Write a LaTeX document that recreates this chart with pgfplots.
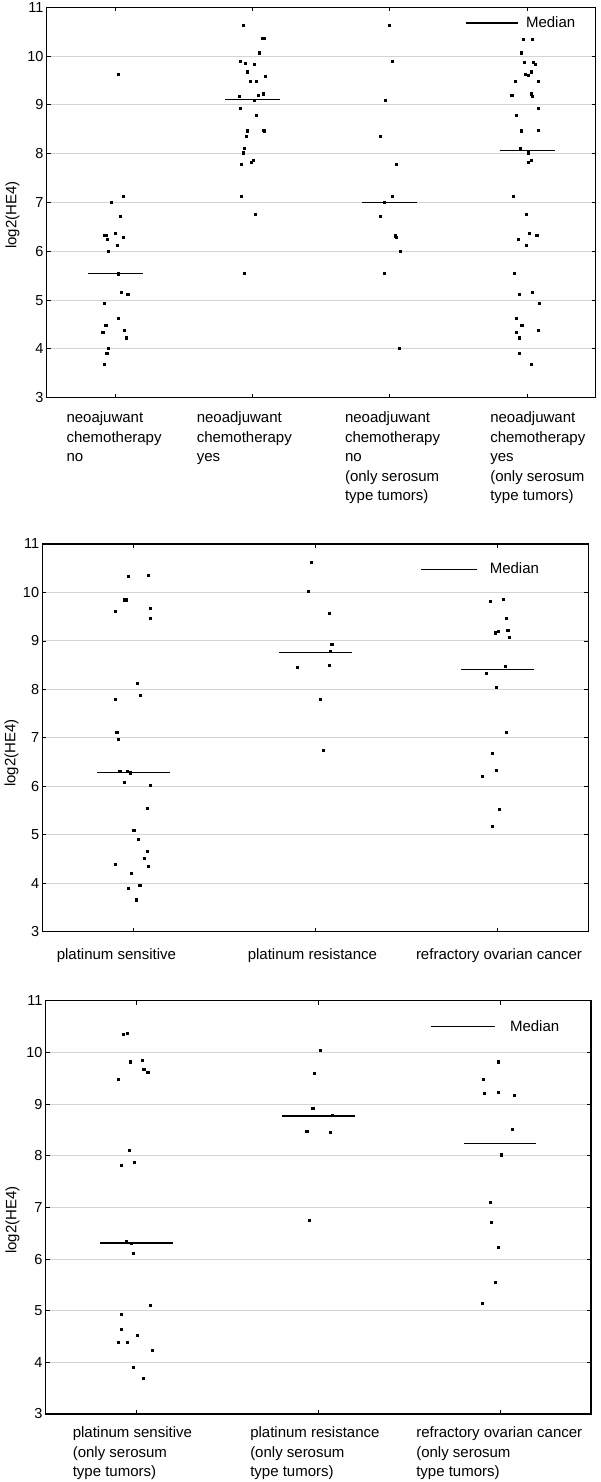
\documentclass[border=0pt]{standalone}
\usepackage{pgfplots}
\pgfplotsset{compat=1.18}
\usepackage{fontspec}
\setmainfont{Liberation Sans}
\newcommand\lab[2]{\hspace*{#1}\begin{tabular}{@{}l@{}}#2\end{tabular}}
\pgfplotsset{
  panel/.style={
    scale only axis,
    ymin=3, ymax=11, ytick={3,4,...,11},
    xmin=0.5,
    ymajorgrids,
    grid style={draw=black!17, line width=1pt},
    axis line style={line width=1.3pt},
    tick style={black, line width=0.8pt},
    major tick length=4pt,
    tick align=inside,
    /pgf/number format/assume math mode=true,
    yticklabel style={font=\fontsize{14.5}{14.5}\selectfont, inner sep=0pt, xshift=-3pt},
    xticklabel style={font=\fontsize{15}{19.5}\selectfont, anchor=north west, inner sep=0pt},
    ylabel={log2(HE4)},
    ylabel style={font=\fontsize{15}{15}\selectfont, anchor=center},
    legend style={draw=none, fill=none, font=\fontsize{15}{15}\selectfont, inner sep=0pt, anchor=west},
    legend cell align=left,
  },
  pts/.style={only marks, mark=square*, mark size=1.05pt, black, forget plot},
  med/.style={black, line width=1.3pt, no marks, forget plot},
}
\begin{document}
\begin{tikzpicture}
\useasboundingbox (0,0) rectangle (600pt,1482pt);

% ---------------- Panel 1 ----------------
\begin{axis}[panel,
  at={(46.7pt,1084.3pt)}, anchor=south west,
  width=549pt, height=390.4pt,
  xmax=4.5, xtick={1,2,3,4},
  xticklabel style={yshift=-11pt},
  xticklabels={
    {\lab{-49pt}{neoajuwant\\chemotherapy\\no}},
    {\lab{-56pt}{neoadjuwant\\chemotherapy\\yes}},
    {\lab{-45pt}{neoadjuwant\\chemotherapy\\no\\(only serosum\\type tumors)}},
    {\lab{-37pt}{neoadjuwant\\chemotherapy\\yes\\(only serosum\\type tumors)}}},
  ylabel style={at={(axis description cs:-0.0623,0.468)}},
  legend style={at={(axis cs:3.547,10.68)}},
  legend image code/.code={\draw[#1] (0pt,0pt) -- (52.6pt,0pt);},
]
\addplot[pts] coordinates {
(1.024,9.62) (1.058,7.13) (0.973,7.00) (1.036,6.72) (1.002,6.37) (0.922,6.33)
(0.932,6.33) (0.942,6.25) (1.056,6.29) (1.015,6.12) (0.947,6.01) (1.022,5.54)
(1.046,5.16) (1.090,5.12) (0.922,4.93) (1.024,4.63) (0.930,4.49) (0.908,4.35)
(1.066,4.39) (1.078,4.23) (0.947,4.01) (0.937,3.92) (0.922,3.69)};
\addplot[pts] coordinates {
(1.932,10.63) (2.073,10.36) (2.085,10.36) (2.046,10.07) (1.908,9.89) (1.944,9.86)
(2.015,9.83) (1.964,9.68) (2.090,9.59) (1.985,9.48) (2.027,9.48) (1.900,9.18)
(2.039,9.20) (2.080,9.23) (2.015,9.09) (1.910,8.94) (2.024,8.79) (1.961,8.47)
(1.951,8.35) (2.085,8.47) (2.080,8.49) (1.942,8.11) (1.934,8.02) (2.005,7.87)
(1.993,7.82) (1.920,7.79) (1.920,7.13) (2.020,6.76) (1.939,5.55)};
\addplot[pts] coordinates {
(2.995,10.63) (3.017,9.89) (2.964,9.09) (2.932,8.35) (3.046,7.79) (3.017,7.13)
(2.960,7.00) (2.932,6.72) (3.039,6.32) (3.044,6.29) (3.078,6.01) (2.961,5.55)
(3.068,4.01)};
\addplot[pts] coordinates {
(3.971,10.35) (4.039,10.35) (3.954,10.07) (3.976,9.87) (4.046,9.87) (4.056,9.84)
(3.985,9.63) (4.005,9.60) (4.027,9.68) (3.913,9.48) (4.080,9.48) (3.888,9.20)
(4.027,9.23) (4.039,9.18) (4.080,8.94) (3.922,8.79) (3.954,8.47) (4.080,8.49)
(3.951,8.11) (4.005,8.02) (4.027,7.87) (4.007,7.82) (3.900,7.13) (3.993,6.76)
(4.017,6.37) (4.070,6.33) (3.934,6.25) (3.995,6.12) (3.908,5.55) (4.036,5.16)
(3.944,5.12) (4.090,4.93) (3.922,4.63) (3.961,4.49) (3.922,4.35) (4.078,4.39)
(3.942,4.23) (3.942,3.92) (4.027,3.69)};
\addplot[med] coordinates {(0.8,5.55) (1.2,5.55)};
\addplot[med] coordinates {(1.8,9.11) (2.2,9.11)};
\addplot[med] coordinates {(2.8,7.00) (3.2,7.00)};
\addplot[med] coordinates {(3.8,8.06) (4.2,8.06)};
\addlegendimage{black, line width=1.3pt}
\addlegendentry{\hspace*{5pt}Median}
\end{axis}

% ---------------- Panel 2 ----------------
\begin{axis}[panel,
  at={(42.3pt,550.3pt)}, anchor=south west,
  width=546pt, height=387.7pt,
  xmax=3.5, xtick={1,2,3},
  xticklabel style={yshift=-14pt},
  xticklabels={
    {\lab{-76.7pt}{platinum sensitive}},
    {\lab{-67.7pt}{platinum resistance}},
    {\lab{-81.5pt}{refractory ovarian cancer}}},
  ylabel style={at={(axis description cs:-0.0564,0.461)}},
  legend style={at={(axis cs:2.577,10.48)}},
  legend image code/.code={\draw[#1] (0pt,0pt) -- (56pt,0pt);},
]
\addplot[pts] coordinates {
(0.973,10.33) (1.084,10.36) (0.949,9.85) (0.958,9.85) (0.901,9.62) (1.091,9.67)
(1.091,9.46) (1.020,8.13) (1.037,7.88) (0.900,7.79) (0.909,7.11) (0.916,6.98)
(0.925,6.32) (0.965,6.32) (0.982,6.28) (0.949,6.09) (1.091,6.03) (1.075,5.54)
(1.002,5.09) (1.026,4.91) (1.075,4.66) (1.059,4.51) (0.901,4.39) (1.084,4.36)
(0.987,4.20) (1.035,3.96) (0.973,3.89) (1.018,3.66)};
\addplot[pts] coordinates {
(1.976,10.63) (1.960,10.03) (2.075,9.58) (2.090,8.93) (2.082,8.79) (2.075,8.49)
(1.900,8.46) (2.027,7.79) (2.042,6.75)};
\addplot[pts] coordinates {
(2.962,9.82) (3.033,9.86) (3.049,9.47) (2.987,9.17) (3.007,9.20) (3.057,9.23)
(3.066,9.08) (3.044,8.48) (2.940,8.33) (2.996,8.04) (3.049,7.11) (2.971,6.69)
(2.995,6.34) (2.916,6.21) (3.009,5.53) (2.971,5.18)};
\addplot[med] coordinates {(0.8,6.28) (1.2,6.28)};
\addplot[med] coordinates {(1.8,8.76) (2.2,8.76)};
\addplot[med] coordinates {(2.8,8.41) (3.2,8.41)};
\addlegendimage{black, line width=1.3pt}
\addlegendentry{\hspace*{10pt}Median}
\end{axis}

% ---------------- Panel 3 ----------------
\begin{axis}[panel,
  at={(45.7pt,68pt)}, anchor=south west,
  width=545.3pt, height=413.3pt,
  xmax=3.5, xtick={1,2,3},
  xticklabel style={yshift=-10pt},
  xticklabels={
    {\lab{-64pt}{platinum sensitive\\(only serosum\\type tumors)}},
    {\lab{-68.3pt}{platinum resistance\\(only serosum\\type tumors)}},
    {\lab{-84pt}{refractory ovarian cancer\\(only serosum\\ type tumors)}}},
  ylabel style={at={(axis description cs:-0.0609,0.469)}},
  legend style={at={(axis cs:2.617,10.5)}},
  legend image code/.code={\draw[#1] (0pt,0pt) -- (64pt,0pt);},
]
\addplot[pts] coordinates {
(0.925,10.355) (0.949,10.37) (0.965,9.82) (1.029,9.85) (1.039,9.68) (1.061,9.61)
(0.900,9.48) (0.958,8.11) (0.917,7.82) (0.989,7.88) (0.941,6.34) (0.969,6.31)
(0.980,6.11) (1.075,5.10) (0.915,4.93) (0.915,4.65) (0.900,4.39) (0.949,4.39)
(1.002,4.52) (1.086,4.23) (0.982,3.91) (1.037,3.69)};
\addplot[pts] coordinates {
(2.011,10.05) (1.978,9.59) (1.969,8.92) (2.074,8.79) (1.936,8.48) (2.064,8.45)
(1.952,6.75)};
\addplot[pts] coordinates {
(2.991,9.82) (2.908,9.48) (2.914,9.21) (2.991,9.23) (3.077,9.17) (3.068,8.51)
(3.004,8.02) (2.943,7.10) (2.949,6.71) (2.987,6.22) (2.974,5.55) (2.900,5.15)};
\addplot[med] coordinates {(0.8,6.31) (1.2,6.31)};
\addplot[med] coordinates {(1.8,8.77) (2.2,8.77)};
\addplot[med] coordinates {(2.8,8.24) (3.2,8.24)};
\addlegendimage{black, line width=1.3pt}
\addlegendentry{\hspace*{12pt}Median}
\end{axis}
\end{tikzpicture}
\end{document}
